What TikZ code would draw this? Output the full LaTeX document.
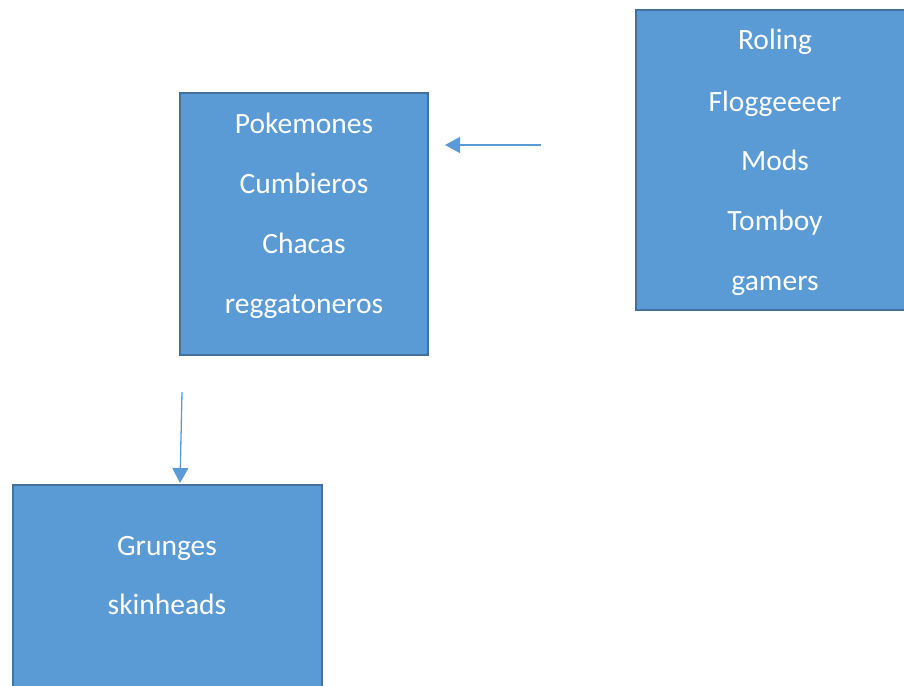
\documentclass[tikz,border=0pt]{standalone}
\usepackage{fontspec}
\setmainfont{Carlito}
\usetikzlibrary{arrows.meta}
\definecolor{boxfill}{HTML}{5B9BD5}
\definecolor{boxline}{HTML}{41719C}
\tikzset{
  box/.style={draw=boxline, line width=2pt, fill=boxfill, inner sep=0pt, outer sep=0pt},
  lbl/.style={text=white, font=\fontsize{29.5}{33}\selectfont, inner sep=0pt, anchor=base},
  conn/.style={draw=boxfill, line width=1.3pt, -{Triangle[length=15pt,width=16pt]}}
}
\begin{document}
\begin{tikzpicture}[x=1pt,y=-1pt]
\useasboundingbox (0,0) rectangle (904,685);
\clip (0,0) rectangle (904,685);
\node[box, minimum width=248pt, minimum height=262pt] (A) at (304,224) {};
\node[box, minimum width=280pt, minimum height=300pt] (B) at (776,160) {};
\node[box, minimum width=309pt, minimum height=230pt] (C) at (167.5,600) {};
\node[lbl] (a1) at (304,133) {Pokemones};
\node[lbl] (a2) at (304,193) {Cumbieros};
\node[lbl] (a3) at (304,253) {Chacas};
\node[lbl] (a4) at (304,313) {reggatoneros};
\node[lbl] (b1) at (775,50) {Roling};
\node[lbl] (b2) at (775,111) {Floggeeeer};
\node[lbl] (b3) at (775,170) {Mods};
\node[lbl] (b4) at (775,230) {Tomboy};
\node[lbl] (b5) at (775,290) {gamers};
\node[lbl] (c1) at (167,555) {Grunges};
\node[lbl] (c2) at (167,614) {skinheads};
\coordinate (s1) at (541,145);
\coordinate (e1) at (445,145);
\coordinate (s2) at (182,392);
\coordinate (e2) at (180,483);
\draw[conn] (s1) -- (e1);
\draw[conn] (s2) -- (e2);
\end{tikzpicture}
\end{document}
